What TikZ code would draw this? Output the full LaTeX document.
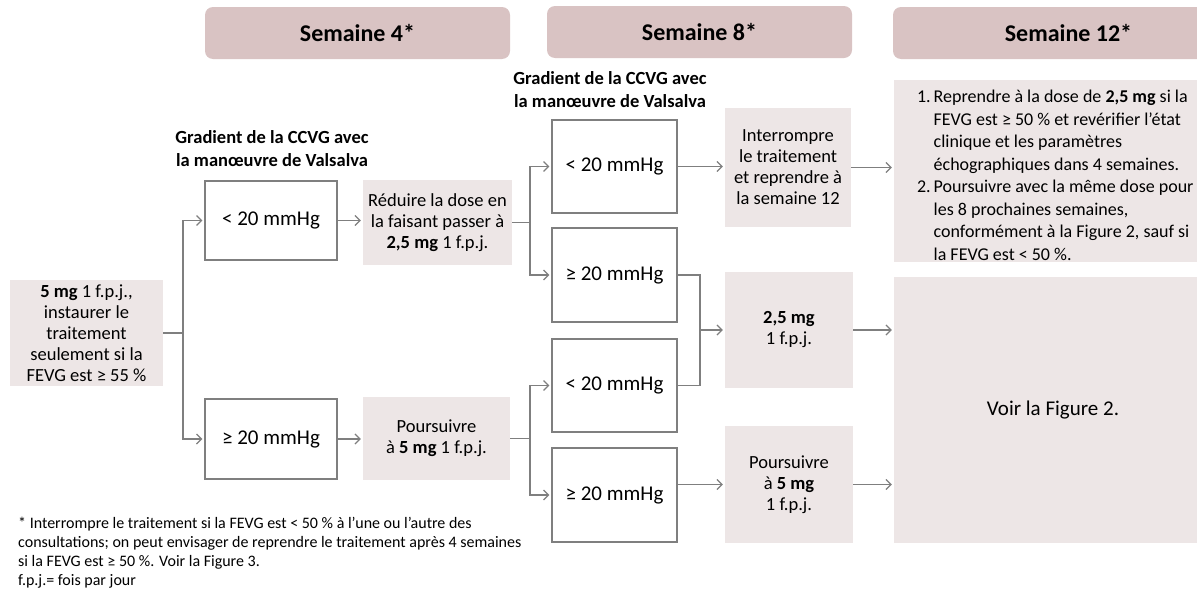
\documentclass[tikz,border=0pt]{standalone}
\usepackage{fontspec}
\setmainfont{Carlito}
\usetikzlibrary{arrows.meta}
\definecolor{headrose}{RGB}{217,195,195}
\definecolor{palerose}{RGB}{237,230,230}
\definecolor{linegray}{RGB}{127,127,127}
\newcommand{\fsz}[2]{\fontsize{#1}{#2}\selectfont}

\begin{document}
\begin{tikzpicture}[x=1pt,y=-1pt,
	head/.style={fill=headrose,rounded corners=8pt,inner sep=0pt,minimum width=305pt,minimum height=52pt,font=\bfseries\fsz{24}{28}},
	pale/.style={fill=palerose,inner sep=0pt,align=center,font=\fsz{18.5}{21}},
	grad/.style={draw=linegray,line width=1.3pt,inner sep=0pt,minimum width=125pt,font=\fsz{21}{25}},
	gradlabel/.style={align=center,font=\bfseries\fsz{18.5}{23}},
	link/.style={draw=linegray,line width=1.2pt},
	arr/.style={link,-{Straight Barb[length=5pt,width=10pt]},shorten >=2pt}]
	\useasboundingbox (0,0) rectangle (1197,589);
	\node[head] (h4) at (357.5,33) {Semaine 4*};
	\node[head] (h8) at (699.5,32) {Semaine 8*};
	\node[head,minimum width=351pt] (h12) at (1068.5,33) {Semaine 12*};
	\node[pale,minimum width=153pt,minimum height=106pt] (start) at (86.5,333) {\textbf{5 mg} 1 f.p.j.,\\instaurer le\\traitement\\seulement si la\\FEVG est ≥ 55 \%};
	\node[gradlabel] (lab4) at (272,149) {Gradient de la CCVG avec\\la manœuvre de Valsalva};
	\node[gradlabel] (lab8) at (610,90) {Gradient de la CCVG avec\\la manœuvre de Valsalva};
	\node[grad,minimum width=132pt,minimum height=79pt] (g4lo) at (271,220.5) {< 20 mmHg};
	\node[grad,minimum width=132pt,minimum height=80pt] (g4hi) at (271,439) {≥ 20 mmHg};
	\node[pale,minimum width=149pt,minimum height=85pt] (cut4) at (437.5,222.5) {Réduire la dose en\\la faisant passer à\\\textbf{2,5 mg} 1 f.p.j.};
	\node[pale,minimum width=147pt,minimum height=83pt] (keep4) at (436.5,438.5) {Poursuivre\\à \textbf{5 mg} 1 f.p.j.};
	\node[grad,minimum height=93pt] (g8a) at (614.5,166.5) {< 20 mmHg};
	\node[grad,minimum height=94pt] (g8b) at (614.5,275) {≥ 20 mmHg};
	\node[grad,minimum height=93pt] (g8c) at (614.5,385.5) {< 20 mmHg};
	\node[grad,minimum height=94pt] (g8d) at (614.5,495) {≥ 20 mmHg};
	\node[pale,minimum width=126pt,minimum height=119pt] (stop8) at (788,167.5) {Interrompre\\le traitement\\et reprendre à\\la semaine 12};
	\node[pale,minimum width=128pt,minimum height=116pt] (cut8) at (789,330) {\textbf{2,5 mg}\\1 f.p.j.};
	\node[pale,minimum width=128pt,minimum height=117pt] (keep8) at (789,484.5) {Poursuivre\\à \textbf{5 mg}\\1 f.p.j.};
	\node[pale,minimum width=336pt,minimum height=182pt,font=\fsz{18}{22.5}] (res12) at (1062,171) {\raisebox{-6pt}[\height][\depth]{\makebox[290pt][l]{\begin{tabular}{@{}r@{\hspace{3pt}}l@{}}
		1. & Reprendre à la dose de \textbf{2,5 mg} si la\\
		& FEVG est ≥ 50 \% et revérifier l’état\\
		& clinique et les paramètres\\
		& échographiques dans 4 semaines.\\
		2. & Poursuivre avec la même dose pour\\
		& les 8 prochaines semaines,\\
		& conformément à la Figure 2, sauf si\\
		& la FEVG est < 50 \%.
	\end{tabular}}}};
	\node[pale,minimum width=318pt,minimum height=266pt,font=\fsz{21}{25}] (fig12) at (1053,410) {Voir la Figure 2.};
	\node[anchor=north west,align=left,inner sep=0pt,font=\fsz{16}{19}] (note) at (18,517) {* Interrompre le traitement si la FEVG est < 50 \% à l’une ou l’autre des\\consultations; on peut envisager de reprendre le traitement après 4 semaines\\si la FEVG est ≥ 50 \%. Voir la Figure 3.\\f.p.j.= fois par jour};
	\coordinate (fork4) at (183,333);
	\coordinate (fork8a) at (530,222.5);
	\coordinate (fork8b) at (530,438.5);
	\coordinate (join8) at (700,330);
	\draw[link] (start) -- (fork4);
	\draw[arr] (fork4) |- (g4lo);
	\draw[arr] (fork4) |- (g4hi);
	\draw[arr] (g4lo.east) -- (g4lo.east -| cut4.west);
	\draw[arr] (g4hi.east) -- (g4hi.east -| keep4.west);
	\draw[link] (cut4) -- (fork8a);
	\draw[arr] (fork8a) |- (g8a);
	\draw[arr] (fork8a) |- (g8b);
	\draw[link] (keep4) -- (fork8b);
	\draw[arr] (fork8b) |- (g8c);
	\draw[arr] (fork8b) |- (g8d);
	\draw[arr] (g8a.east) -- (g8a.east -| stop8.west);
	\draw[link] (g8b.east) -| (join8);
	\draw[link] (g8c.east) -| (join8);
	\draw[arr] (join8) -- (cut8);
	\draw[arr] (g8d.east |- keep8) -- (keep8);
	\draw[arr] (stop8.east) -- (stop8.east -| res12.west);
	\draw[arr] (cut8.east) -- (cut8.east -| fig12.west);
	\draw[arr] (keep8.east) -- (keep8.east -| fig12.west);
\end{tikzpicture}
\end{document}
